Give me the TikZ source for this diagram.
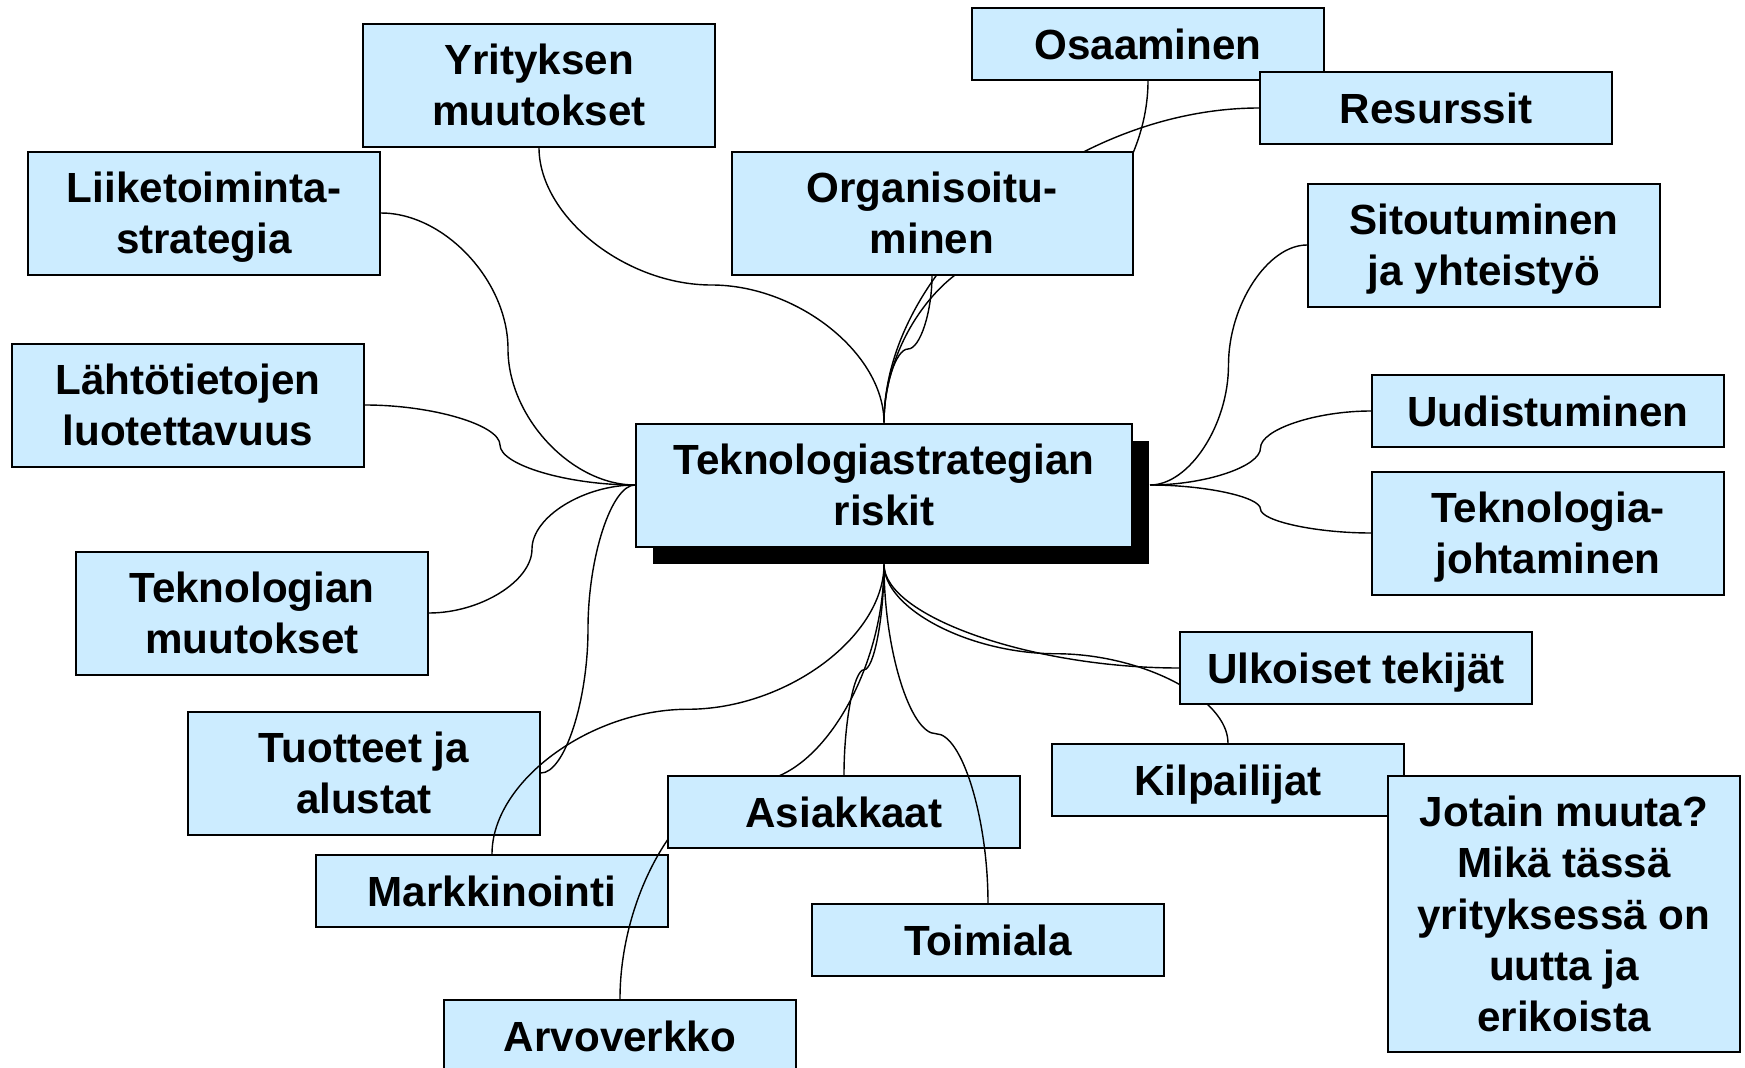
\documentclass[tikz,border=0pt]{standalone}
\usepackage{fontspec}
\setmainfont{Liberation Sans}
\usetikzlibrary{calc, shadows}
\definecolor{boxblue}{RGB}{204,236,255}
\pgfdeclarelayer{back}
\pgfdeclarelayer{wires}
\pgfdeclarelayer{front}
\pgfsetlayers{back,wires,main,front}

\begin{document}
\begin{tikzpicture}[
  box/.style={draw, line width=0.02cm, fill=boxblue, minimum width=3.52cm,
    minimum height=0.72cm, inner sep=0pt, align=center, text depth=0pt,
    font=\fontsize{12}{14.6}\selectfont\bfseries},
  tall/.style={minimum height=1.23cm},
  conn/.style={line width=0.4pt},
  % curves like the office connectors: bent once or twice
  hcurve/.style={to path={let \p1=(\tikztostart), \p2=(\tikztotarget) in
    .. controls ({\x1+(\x2-\x1)/4},\y1) and ({(\x1+\x2)/2},{\y1+(\y2-\y1)/4})
    .. ({(\x1+\x2)/2},{(\y1+\y2)/2})
    .. controls ({(\x1+\x2)/2},{\y1+3*(\y2-\y1)/4}) and ({\x1+3*(\x2-\x1)/4},\y2)
    .. (\p2)}},
  vcurve/.style={to path={let \p1=(\tikztostart), \p2=(\tikztotarget) in
    .. controls (\x1,{\y1+(\y2-\y1)/4}) and ({\x1+(\x2-\x1)/4},{(\y1+\y2)/2})
    .. ({(\x1+\x2)/2},{(\y1+\y2)/2})
    .. controls ({\x1+3*(\x2-\x1)/4},{(\y1+\y2)/2}) and (\x2,{\y1+3*(\y2-\y1)/4})
    .. (\p2)}},
  hvcurve/.style={to path={let \p1=(\tikztostart), \p2=(\tikztotarget) in
    .. controls ({(\x1+\x2)/2},\y1) and (\x2,{(\y1+\y2)/2}) .. (\p2)}}
]
  \useasboundingbox (0,0) rectangle (17.45,-10.68);

  \node[box, minimum width=4.96cm, minimum height=1.23cm,
    drop shadow={shadow xshift=0.17cm, shadow yshift=-0.17cm, fill=black, opacity=1}]
    (ctr) at (8.84,-4.85) {Teknologiastrategian\\riskit};
  \coordinate (ctrE) at ([xshift=0.17cm]ctr.east);
  \coordinate (ctrS) at ([yshift=-0.17cm]ctr.south);

  \node[box, tall] (yri) at (5.39,-0.85) {Yrityksen\\muutokset};
  \node[box] (osa) at (11.48,-0.44) {Osaaminen};
  \node[box] (res) at (14.36,-1.08) {Resurssit};
  \node[box, tall, minimum width=4.01cm] (org) at (9.32,-2.13) {Organisoitu-\\minen};
  \node[box, tall] (lii) at (2.04,-2.13) {Liiketoiminta-\\strategia};
  \node[box, tall] (sit) at (14.84,-2.45) {Sitoutuminen\\ja yhteistyö};
  \node[box, tall] (lah) at (1.88,-4.05) {Lähtötietojen\\luotettavuus};
  \node[box] (uud) at (15.48,-4.11) {Uudistuminen};
  \node[box, tall] (tjo) at (15.48,-5.33) {Teknologia-\\johtaminen};
  \node[box, tall] (tmu) at (2.52,-6.13) {Teknologian\\muutokset};
  \node[box] (ulk) at (13.56,-6.68) {Ulkoiset tekijät};
  \node[box] (kil) at (12.28,-7.80) {Kilpailijat};
  \node[box] (asi) at (8.44,-8.12) {Asiakkaat};
  \node[box, minimum height=2.76cm] (jot) at (15.64,-9.14)
    {Jotain muuta?\\Mikä tässä\\yrityksessä on\\uutta ja\\erikoista};
  \node[box] (toi) at (9.88,-9.40) {Toimiala};
  \node[box] (arv) at (6.20,-10.36) {Arvoverkko};
  \begin{pgfonlayer}{back}
    \node[box, tall] (tuo) at (3.64,-7.73) {Tuotteet ja\\alustat};
    \node[box] (mar) at (4.92,-8.91) {Markkinointi};
  \end{pgfonlayer}

  \begin{pgfonlayer}{wires}
    \path[conn]
      (yri.south) edge[vcurve] (ctr.north)
      (org.south) edge[vcurve] (ctr.north)
      (osa.south) edge[vcurve] (ctr.north)
      (res.west) edge[hvcurve] (ctr.north)
      (lii.east) edge[hcurve] (ctr.west)
      (lah.east) edge[hcurve] (ctr.west)
      (tmu.east) edge[hcurve] (ctr.west)
      (tuo.east) edge[hcurve] (ctr.west)
      (sit.west) edge[hcurve] (ctrE)
      (uud.west) edge[hcurve] (ctrE)
      (tjo.west) edge[hcurve] (ctrE)
      (ulk.west) edge[hvcurve] (ctrS)
      (kil.north) edge[vcurve] (ctrS)
      (asi.north) edge[vcurve] (ctrS)
      (arv.north) edge[vcurve] (ctrS)
      (mar.north) edge[vcurve] (ctrS);
  \end{pgfonlayer}
  \begin{pgfonlayer}{front}
    \path[conn] (toi.north) edge[vcurve] (ctrS);
  \end{pgfonlayer}
\end{tikzpicture}
\end{document}
